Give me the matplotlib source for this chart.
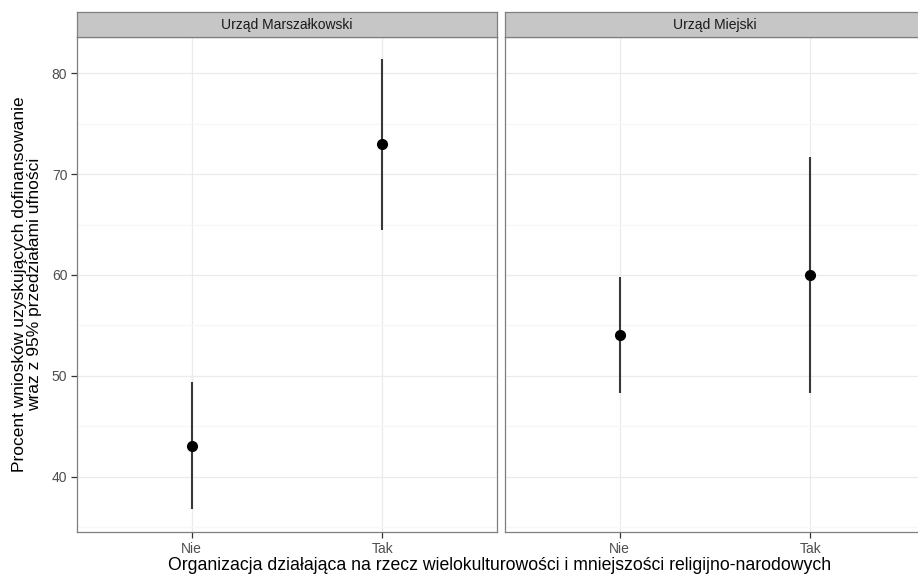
import matplotlib.pyplot as plt
from matplotlib.ticker import MultipleLocator

plt.rcParams['font.family'] = ['Liberation Sans', 'DejaVu Sans']

# dane
panele = ['Urząd Marszałkowski', 'Urząd Miejski']
kategorie = ['Nie', 'Tak']
procent = [[43.0, 73.0], [54.0, 60.0]]
dolna = [[36.8, 64.5], [48.3, 48.3]]
gorna = [[49.4, 81.4], [59.8, 71.7]]

fig = plt.figure(figsize=(9.18, 5.78), dpi=100)

W, H = 918, 578
lewe = [77, 505]
szer = 420
gora, dol = 37, 532
strip_gora = 12

for i, nazwa in enumerate(panele):
    ax = fig.add_axes([lewe[i] / W, 1 - dol / H, szer / W, (dol - gora) / H])
    xs = list(range(1, len(kategorie) + 1))
    ax.vlines(xs, dolna[i], gorna[i], color='#383838', lw=1.5, zorder=3)
    ax.plot(xs, procent[i], 'o', color='black', ms=7, zorder=4)

    ax.set_xlim(0.4, 2.6)
    ax.set_ylim(34.5, 83.6)
    ax.set_xticks(xs)
    ax.set_xticklabels(kategorie)
    ax.yaxis.set_major_locator(MultipleLocator(10))
    ax.yaxis.set_minor_locator(MultipleLocator(5))
    ax.grid(True, which='major', color='#ebebeb', lw=0.9)
    ax.grid(True, which='minor', axis='y', color='#f7f7f7', lw=0.9)
    ax.set_axisbelow(True)
    for s in ax.spines.values():
        s.set_color('#7f7f7f')
        s.set_linewidth(0.9)
    ax.tick_params(axis='both', which='major', length=4, width=0.9, color='#333333',
                   labelsize=10, labelcolor='#4d4d4d', pad=3)
    ax.tick_params(axis='y', which='minor', length=0)
    if i > 0:
        ax.tick_params(axis='y', which='major', left=False, labelleft=False)

    # pasek z nazwą panelu
    st = fig.add_axes([lewe[i] / W, 1 - gora / H, szer / W, (gora - strip_gora) / H])
    st.set_facecolor('#c6c6c6')
    st.set_xticks([])
    st.set_yticks([])
    for s in st.spines.values():
        s.set_color('#7f7f7f')
        s.set_linewidth(0.9)
    st.text(0.5, 0.5, nazwa, transform=st.transAxes, ha='center', va='center',
            fontsize=10, color='#1a1a1a')

fig.text(500 / W, 1 - 566 / H,
         'Organizacja działająca na rzecz wielokulturowości i mniejszości religijno-narodowych',
         ha='center', va='center', fontsize=12.7, color='black')
fig.text(27 / W, 1 - 284 / H,
         'Procent wniosków uzyskujących dofinansowanie\nwraz z 95% przedziałami ufności',
         ha='center', va='center', rotation=90, fontsize=12.5, color='black',
         linespacing=0.95)

fig.savefig('out.png', dpi=100)
